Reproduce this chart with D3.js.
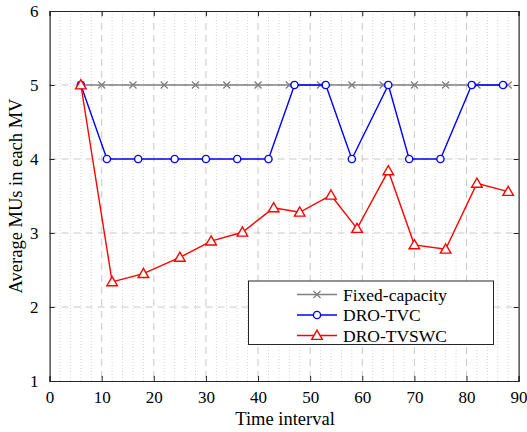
<!DOCTYPE html>
<html><head><meta charset="utf-8">
<script src="https://cdn.jsdelivr.net/npm/d3@7"></script>
<style>body{margin:0;background:#fff}svg{display:block}text{font-family:"Liberation Serif","Times New Roman",serif;fill:#000}</style>
</head><body><svg id="c" width="527" height="432"></svg>
<script>
const xTicks=[0,10,20,30,40,50,60,70,80,90];
const yTicks=[1,2,3,4,5,6];
const fixedX=[6,10,16,22,28,34,40,46,52,58,64,70,76,82,88];
const fixedY=[5,5,5,5,5,5,5,5,5,5,5,5,5,5,5];
const tvcX=[6,11,17,24,30,36,42,47,53,58,65,69,75,81,87];
const tvcY=[5,4,4,4,4,4,4,5,5,4,5,4,4,5,5];
const swcX=[6,12,18,25,31,37,43,48,54,59,65,70,76,82,88];
const swcY=[5,2.34,2.45,2.67,2.89,3.01,3.34,3.28,3.51,3.06,3.84,2.84,2.78,3.67,3.56];
const seriesNames=["Fixed-capacity","DRO-TVC","DRO-TVSWC"];

const svg=d3.select("#c");
const L=49.6,R=518.6,T=11,B=381;
const x=d3.scaleLinear().domain([0,90]).range([L,R]);
const y=d3.scaleLinear().domain([1,6]).range([B,T]);

// minor grid
const minor=d3.range(2,90,2).filter(v=>v%10!==0);
svg.append("g").selectAll("line").data(minor).join("line")
 .attr("x1",d=>x(d)).attr("x2",d=>x(d)).attr("y1",T).attr("y2",B)
 .attr("stroke","#d4d4d4").attr("stroke-width",1).attr("stroke-dasharray","1,2");
// major grid
svg.append("g").selectAll("line").data(xTicks.slice(1,-1)).join("line")
 .attr("x1",d=>x(d)).attr("x2",d=>x(d)).attr("y1",T).attr("y2",B)
 .attr("stroke","#c8c8c8").attr("stroke-width",1).attr("stroke-dasharray","7,5");
svg.append("g").selectAll("line").data(yTicks.slice(1,-1)).join("line")
 .attr("y1",d=>y(d)).attr("y2",d=>y(d)).attr("x1",L).attr("x2",R)
 .attr("stroke","#c8c8c8").attr("stroke-width",1).attr("stroke-dasharray","7,5");

// axes
const fs="17px";
const fmt=d3.format("d");
const ax=svg.append("g").attr("transform",`translate(0,${B})`).call(d3.axisBottom(x).tickValues(xTicks).tickFormat(fmt).tickSize(-5).tickPadding(10));
const axT=svg.append("g").attr("transform",`translate(0,${T})`).call(d3.axisTop(x).tickValues(xTicks).tickSize(-5).tickFormat(""));
const ay=svg.append("g").attr("transform",`translate(${L},0)`).call(d3.axisLeft(y).tickValues(yTicks).tickFormat(fmt).tickSize(-5).tickPadding(11));
const ayR=svg.append("g").attr("transform",`translate(${R},0)`).call(d3.axisRight(y).tickValues(yTicks).tickSize(-5).tickFormat(""));
[ax,axT,ay,ayR].forEach(g=>{g.select(".domain").attr("stroke","#262626").attr("stroke-width",1.2);g.selectAll(".tick line").attr("stroke","#262626");g.selectAll("text").style("font-family","Liberation Serif").style("font-size",fs).attr("fill","#000");});

svg.append("text").attr("x",(L+R)/2+1).attr("y",425).attr("text-anchor","middle").style("font-size","18.5px").text("Time interval");
svg.append("text").attr("transform",`translate(22,${(T+B)/2}) rotate(-90)`).attr("text-anchor","middle").style("font-size","18.5px").text("Average MUs in each MV");

const line=d3.line().x(d=>x(d[0])).y(d=>y(d[1]));
const colors=["#808080","#0000ff","#ff0000"];
const data=[d3.zip(fixedX,fixedY),d3.zip(tvcX,tvcY),d3.zip(swcX,swcY)];
const tri=d3.symbol().type(d3.symbolTriangle).size(48);
function marker(g,i,cx,cy){
 if(i===0){const s=3.5;g.append("path").attr("d",`M${cx-s},${cy-s}L${cx+s},${cy+s}M${cx-s},${cy+s}L${cx+s},${cy-s}`).attr("stroke",colors[0]).attr("stroke-width",1.3).attr("fill","none");}
 else if(i===1){g.append("circle").attr("cx",cx).attr("cy",cy).attr("r",3.6).attr("fill","#fff").attr("stroke",colors[1]).attr("stroke-width",1.4);}
 else {g.append("path").attr("d",tri()).attr("transform",`translate(${cx},${cy+0.8})`).attr("fill","#fff").attr("stroke",colors[2]).attr("stroke-width",1.4);}
}
data.forEach((d,i)=>{
 const g=svg.append("g");
 g.append("path").attr("d",line(d)).attr("fill","none").attr("stroke",colors[i]).attr("stroke-width",1.4);
 d.forEach(p=>marker(g,i,x(p[0]),y(p[1])));
});

// legend
const lg=svg.append("g");
lg.append("rect").attr("x",248.5).attr("y",281).attr("width",245).attr("height",63.5).attr("fill","#fff").attr("stroke","#262626").attr("stroke-width",1);
seriesNames.forEach((n,i)=>{
 const yy=294.5+i*20.5;
 lg.append("line").attr("x1",297).attr("x2",337).attr("y1",yy).attr("y2",yy).attr("stroke",colors[i]).attr("stroke-width",1.4);
 marker(lg,i,317,yy);
 lg.append("text").attr("x",343).attr("y",yy+6).style("font-size","17.5px").text(n);
});
</script></body></html>
